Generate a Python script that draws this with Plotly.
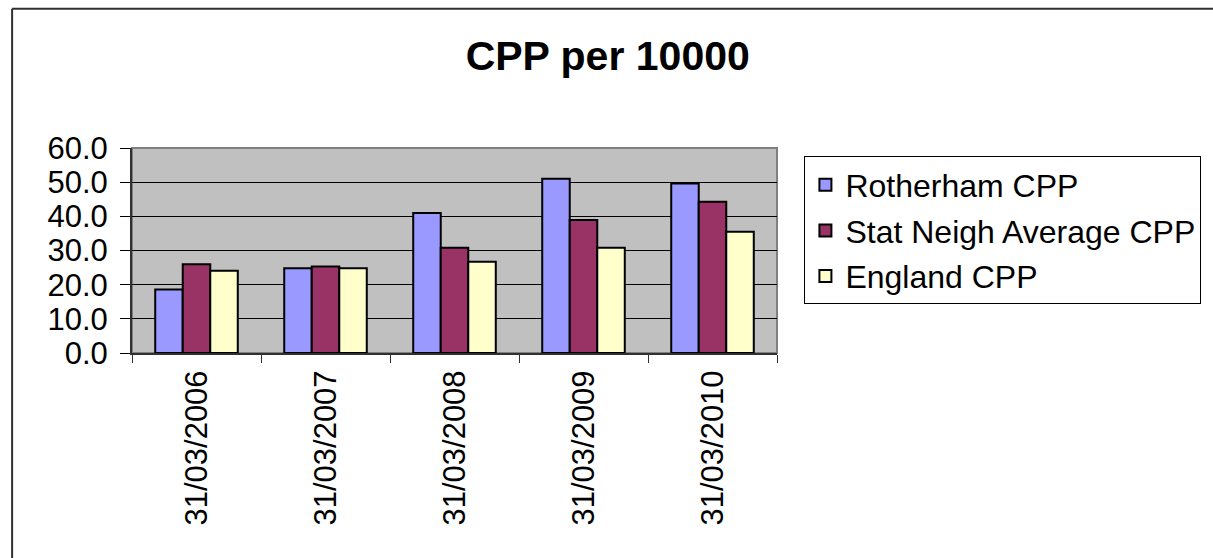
import plotly.graph_objects as go

# data
dates = ["31/03/2006", "31/03/2007", "31/03/2008", "31/03/2009", "31/03/2010"]
rotherham = [18.6, 24.8, 41.0, 51.0, 49.6]
stat_neigh = [26.0, 25.3, 30.8, 38.9, 44.3]
england = [24.1, 24.8, 26.7, 30.8, 35.5]

series_names = ["Rotherham CPP", "Stat Neigh Average CPP", "England CPP"]
series_colors = ["#9999FF", "#993366", "#FFFFCC"]

W, H = 1213, 558
PL, PR, PT, PB = 132.3, 779.5, 147.5, 352.7  # plot area in pixels

FONT = "Arial, Liberation Sans, sans-serif"


def px_x(px):
    return (px - PL) / (PR - PL)


def px_y(py):
    return (PB - py) / (PB - PT)


fig = go.Figure()
for i, (name, vals, col) in enumerate(zip(series_names, [rotherham, stat_neigh, england], series_colors)):
    fig.add_trace(go.Bar(
        x=dates, y=vals, name=name,
        marker=dict(color=col, line=dict(color="black", width=2)),
        legendgroup=f"g{i}",
    ))

fig.update_layout(
    width=W, height=H,
    margin=dict(l=PL, r=W - PR, t=PT, b=H - PB),
    paper_bgcolor="white",
    plot_bgcolor="#C0C0C0",
    barmode="group",
    bargap=0.36,
    bargroupgap=0,
    font=dict(family=FONT, size=31, color="black"),
    title=dict(
        text="<b>CPP per 10000</b>",
        x=0.501, xref="container", xanchor="center",
        y=1 - 56 / H, yref="container", yanchor="middle",
        font=dict(family=FONT, size=41, color="black"),
    ),
    legend=dict(
        x=px_x(807), y=px_y(156), xanchor="left", yanchor="top",
        bgcolor="white", bordercolor="black", borderwidth=1,
        font=dict(family=FONT, size=32, color="black"),
        traceorder="grouped", tracegroupgap=1,
    ),
    showlegend=True,
)

fig.update_yaxes(
    range=[0, 60], dtick=10, tickformat=".1f",
    showgrid=True, gridcolor="black", gridwidth=1,
    showline=True, linecolor="#303030", linewidth=2,
    ticks="outside", ticklen=10, tickcolor="black", tickwidth=1,
    ticklabelstandoff=6,
    tickfont=dict(size=31),
    zeroline=False,
)
fig.update_xaxes(
    type="category", tickangle=-90,
    showline=True, linecolor="#303030", linewidth=2,
    ticks="outside", tickson="boundaries", ticklen=8, tickcolor="#303030", tickwidth=1,
    ticklabelstandoff=3,
    tickfont=dict(size=31),
    showgrid=False,
)

# plot area border (gray) and outer chart frame (its right and bottom edges fall off the page)
fig.add_shape(type="rect", xref="paper", yref="paper", x0=0, x1=1, y0=0, y1=1,
              line=dict(color="#808080", width=2), layer="below")
fig.add_shape(type="line", xref="paper", yref="paper",
              x0=px_x(12), x1=px_x(12), y0=px_y(H + 20), y1=px_y(8),
              line=dict(color="#303030", width=2))
fig.add_shape(type="line", xref="paper", yref="paper",
              x0=px_x(12), x1=px_x(W + 20), y0=px_y(8), y1=px_y(8),
              line=dict(color="#303030", width=2))

fig.write_html("out.html", config={"displayModeBar": False},
               post_script="document.body.style.margin='0';document.body.style.overflow='hidden';")
